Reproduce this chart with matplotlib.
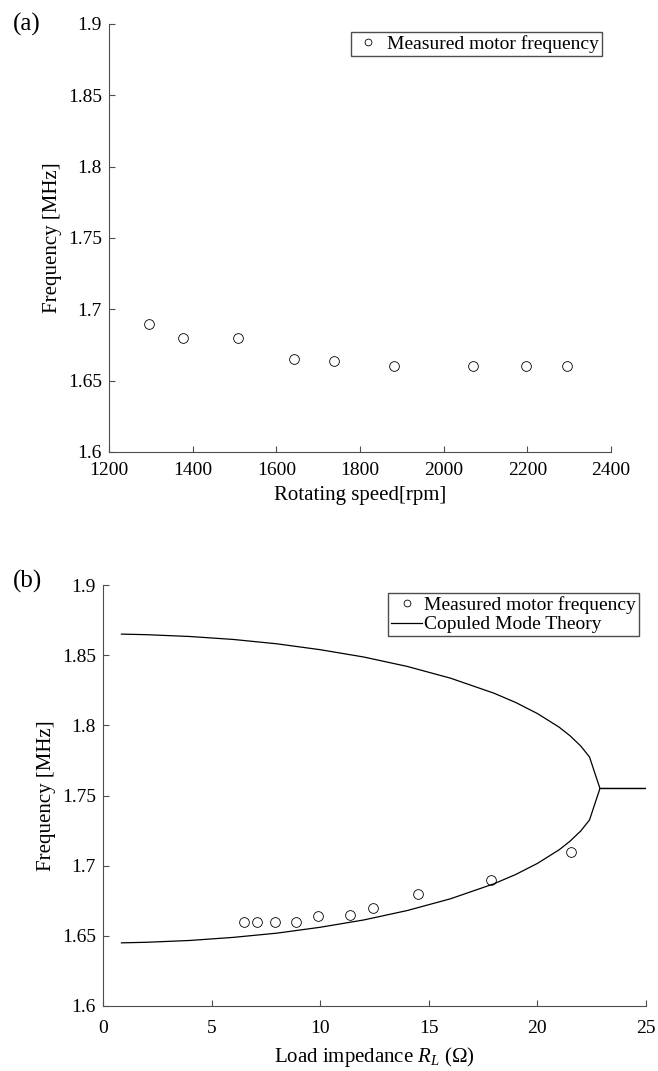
import matplotlib
matplotlib.use("Agg")
import matplotlib.pyplot as plt

plt.rcParams['font.family'] = ['Liberation Serif', 'DejaVu Serif']
plt.rcParams['mathtext.fontset'] = 'custom'
plt.rcParams['mathtext.rm'] = 'Liberation Serif'
plt.rcParams['mathtext.it'] = 'Liberation Serif:italic'

# (a) measured frequency vs rotating speed
speed_rpm = [1295, 1376, 1508, 1642, 1737, 1881, 2070, 2198, 2296]
freq_a = [1.690, 1.680, 1.680, 1.665, 1.664, 1.660, 1.660, 1.660, 1.660]

# (b) measured frequency vs load impedance
load_ohm = [6.5, 7.1, 7.9, 8.9, 9.9, 11.35, 12.45, 14.5, 17.85, 21.55]
freq_b = [1.660, 1.660, 1.660, 1.660, 1.664, 1.665, 1.670, 1.680, 1.690, 1.710]

# coupled mode theory curve
r_theory = [0.85, 2, 4, 6, 8, 10, 12, 14, 16, 18, 19, 20, 21, 21.5, 22, 22.4, 22.88, 25]
upper = [1.865, 1.8646, 1.8633, 1.8612, 1.8581, 1.8539, 1.8487, 1.8420, 1.8336,
         1.8229, 1.8163, 1.8084, 1.7987, 1.7926, 1.7852, 1.7774, 1.755, 1.755]
lower = [1.645, 1.6454, 1.6467, 1.6489, 1.6519, 1.6561, 1.6613, 1.6680, 1.6764,
         1.6871, 1.6937, 1.7016, 1.7113, 1.7174, 1.7248, 1.7326, 1.755, 1.755]

W, H = 658, 1071
fig = plt.figure(figsize=(W / 100, H / 100), dpi=100)

ax1 = fig.add_axes([109 / W, 1 - 452 / H, (611 - 109) / W, (452 - 24) / H])
ax2 = fig.add_axes([103 / W, 1 - 1006 / H, (646 - 103) / W, (1006 - 585) / H])

spine_col = '0.3'
for ax in (ax1, ax2):
    for s in ('top', 'right'):
        ax.spines[s].set_visible(False)
    for s in ('left', 'bottom'):
        ax.spines[s].set_color(spine_col)
        ax.spines[s].set_linewidth(0.8)
    ax.tick_params(direction='in', length=4.5, width=0.8, color=spine_col,
                   labelsize=14, labelcolor='black')
    ax.tick_params(axis='y', pad=5)
    ax.set_ylim(1.6, 1.9)
    ax.set_yticks([1.6, 1.65, 1.7, 1.75, 1.8, 1.85, 1.9])
    ax.set_yticklabels(['1.6', '1.65', '1.7', '1.75', '1.8', '1.85', '1.9'])
    ax.set_ylabel('Frequency [MHz]', fontsize=15, labelpad=4)

ax1.tick_params(axis='x', pad=7)
ax2.tick_params(axis='x', pad=10)

# panel (a)
ax1.plot(speed_rpm, freq_a, 'o', mfc='none', mec='black', ms=7, mew=0.6,
         label='Measured motor frequency')
ax1.set_xlim(1200, 2400)
ax1.set_xticks(range(1200, 2401, 200))
ax1.set_xlabel('Rotating speed[rpm]', fontsize=15, labelpad=5)
ax1.legend(loc='upper right', bbox_to_anchor=(602 / W, 1 - 32 / H),
           bbox_transform=fig.transFigure, fontsize=14, frameon=True,
           fancybox=False, edgecolor='0.3', framealpha=1, borderpad=0.15,
           handlelength=1.4, handletextpad=0.3, borderaxespad=0, markerscale=0.7)

# panel (b)
ax2.plot(load_ohm, freq_b, 'o', mfc='none', mec='black', ms=7, mew=0.6,
         label='Measured motor frequency')
ax2.plot(r_theory, upper, '-', color='black', lw=0.9, label='Copuled Mode Theory')
ax2.plot(r_theory, lower, '-', color='black', lw=0.9)
ax2.set_xlim(0, 25)
ax2.set_xticks([0, 5, 10, 15, 20, 25])
ax2.set_xlabel('Load impedance $R_L$ (Ω)', fontsize=15, labelpad=6)
ax2.legend(loc='upper right', bbox_to_anchor=(639 / W, 1 - 593 / H),
           bbox_transform=fig.transFigure, fontsize=14, frameon=True,
           fancybox=False, edgecolor='0.3', framealpha=1, borderpad=0.15,
           handlelength=1.6, handletextpad=0.1, borderaxespad=0,
           labelspacing=0.1, markerscale=0.7)

fig.text(13 / W, 1 - 24 / H, '(a)', fontsize=18, va='center', ha='left')
fig.text(13 / W, 1 - 581 / H, '(b)', fontsize=18, va='center', ha='left')

fig.savefig('out.png', dpi=100)
